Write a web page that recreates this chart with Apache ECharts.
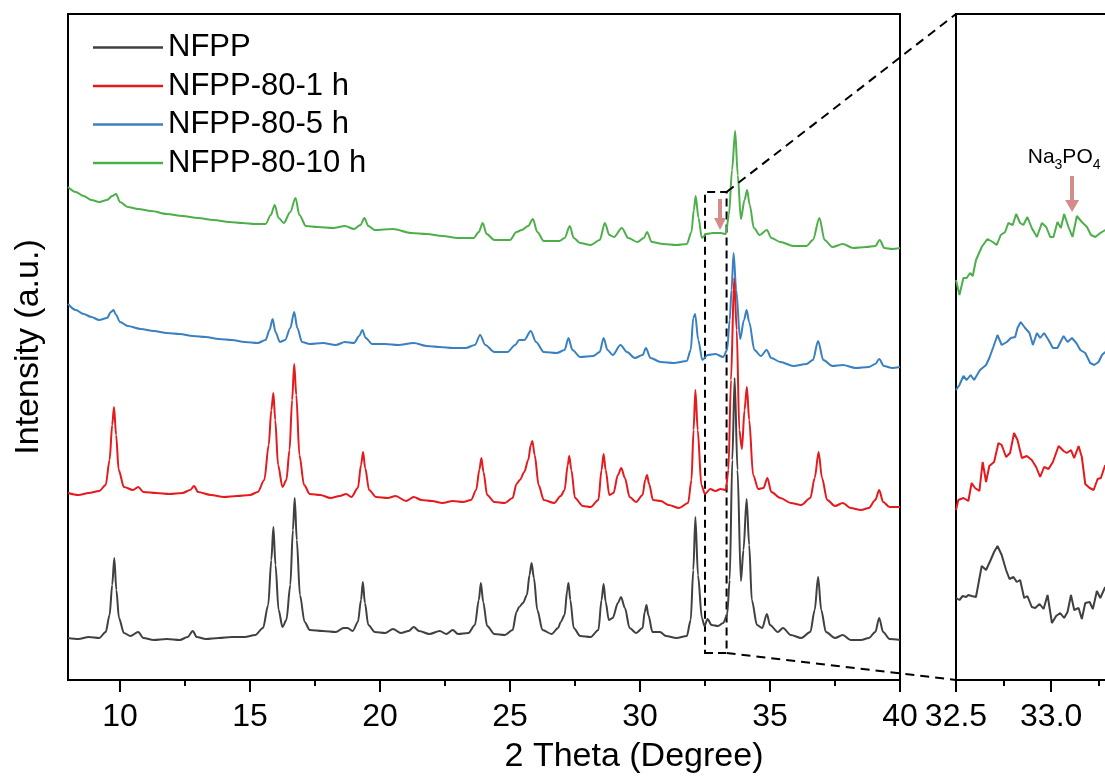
<!DOCTYPE html>
<html>
<head>
<meta charset="utf-8">
<script src="https://cdn.jsdelivr.net/npm/echarts@6/dist/echarts.min.js"></script>
<style>html,body{margin:0;padding:0;background:#fff}#c{width:1105px;height:778px}</style>
</head>
<body>
<div id="c"></div>
<script>
// ---------- data (2θ in degrees, intensity in a.u.) ----------
const seriesNames = ['NFPP', 'NFPP-80-1 h', 'NFPP-80-5 h', 'NFPP-80-10 h'];
const mainXLabels = [10, 15, 20, 25, 30, 35, 40];
const mainXMinorTicks = [12.5, 17.5, 22.5, 27.5, 32.5, 37.5];
const insetXLabels = [32.5, 33.0];
const insetXMinorTicks = [32.75, 33.25];
const zoomBoxX = [32.5, 33.33];
const zoomBoxY = [27, 488];
const mainArrow = [[33.08, 481], [33.08, 456]];
const insetArrow = [[33.11, 504], [33.11, 474]];

const nfpp = [[8.0,42],[8.4,41],[8.8,43],[9.2,42],[9.45,48],[9.6,65],[9.7,95],[9.78,122],[9.86,90],[9.96,62],[10.15,47],[10.4,44],[10.7,48],[10.9,42],[11.3,40],[11.8,41],[12.3,40],[12.6,43],[12.8,49],[12.95,43],[13.3,41],[13.8,42],[14.3,43],[14.8,43],[15.2,45],[15.5,52],[15.7,75],[15.82,120],[15.9,153],[15.98,115],[16.1,70],[16.25,53],[16.4,60],[16.55,95],[16.65,150],[16.72,182],[16.8,140],[16.92,85],[17.1,58],[17.3,50],[17.8,49],[18.3,48],[18.6,52],[18.75,52],[18.95,49],[19.15,58],[19.27,80],[19.34,98],[19.42,77],[19.55,55],[19.8,48],[20.2,47],[20.5,51],[20.8,47],[21.1,49],[21.3,53],[21.5,49],[21.9,46],[22.3,49],[22.55,46],[22.8,50],[23.0,46],[23.4,47],[23.65,55],[23.8,80],[23.88,97],[23.97,78],[24.12,54],[24.4,46],[24.8,45],[25.1,50],[25.25,68],[25.35,73],[25.5,77],[25.65,85],[25.75,105],[25.83,117],[25.92,102],[26.05,70],[26.25,50],[26.6,46],[26.85,52],[26.95,58],[27.1,65],[27.2,90],[27.25,97],[27.32,80],[27.45,52],[27.7,44],[28.1,43],[28.4,50],[28.52,80],[28.6,96],[28.68,78],[28.8,60],[28.95,62],[29.15,77],[29.27,83],[29.42,72],[29.6,52],[29.85,47],[30.1,52],[30.18,68],[30.25,75],[30.32,65],[30.48,48],[30.77,48],[31.0,44],[31.4,42],[31.8,44],[31.95,60],[32.05,110],[32.13,163],[32.23,105],[32.38,62],[32.48,54],[32.6,61],[32.75,55],[33.0,54],[33.2,57],[33.35,65],[33.45,100],[33.55,220],[33.64,302],[33.75,210],[33.88,99],[33.98,130],[34.1,181],[34.2,135],[34.3,80],[34.5,55],[34.7,52],[34.88,66],[35.0,55],[35.3,48],[35.5,52],[35.8,45],[36.2,42],[36.55,48],[36.72,70],[36.85,103],[36.97,70],[37.15,48],[37.5,42],[37.8,45],[38.1,40],[38.5,40],[38.8,42],[39.05,48],[39.2,62],[39.35,48],[39.6,41],[40.0,40]];

const nfpp1h = [[8.0,187],[8.4,185],[8.8,187],[9.2,189],[9.45,195],[9.6,220],[9.7,255],[9.77,273],[9.85,245],[9.95,210],[10.15,193],[10.5,190],[10.7,193],[10.9,188],[11.4,187],[11.9,186],[12.4,187],[12.7,190],[12.85,194],[13.0,188],[13.5,185],[14.0,183],[14.5,184],[15.0,185],[15.3,188],[15.55,200],[15.72,235],[15.82,270],[15.9,287],[15.97,260],[16.08,215],[16.25,193],[16.4,200],[16.52,230],[16.62,280],[16.7,316],[16.78,285],[16.9,225],[17.08,195],[17.3,186],[17.7,185],[18.1,182],[18.45,184],[18.7,186],[18.9,183],[19.15,192],[19.27,215],[19.35,228],[19.43,212],[19.58,190],[19.85,183],[20.3,182],[20.6,184],[21.0,179],[21.3,183],[21.6,180],[22.0,179],[22.4,177],[22.8,179],[23.2,178],[23.5,180],[23.7,190],[23.82,210],[23.9,222],[23.98,208],[24.12,185],[24.4,178],[24.8,177],[25.1,182],[25.25,196],[25.38,200],[25.55,208],[25.7,220],[25.8,235],[25.86,239],[25.95,225],[26.1,195],[26.3,180],[26.7,177],[26.95,184],[27.1,190],[27.22,215],[27.28,224],[27.36,210],[27.5,182],[27.8,174],[28.1,173],[28.4,180],[28.52,210],[28.6,226],[28.68,210],[28.82,185],[28.98,187],[29.15,205],[29.28,212],[29.42,202],[29.6,183],[29.85,178],[30.1,185],[30.2,200],[30.27,205],[30.35,196],[30.5,180],[30.8,179],[31.1,175],[31.5,172],[31.85,177],[31.98,200],[32.06,250],[32.13,290],[32.22,250],[32.36,195],[32.5,186],[32.7,191],[32.9,189],[33.1,191],[33.3,190],[33.4,210],[33.5,300],[33.62,402],[33.72,350],[33.82,250],[33.92,231],[34.02,270],[34.11,293],[34.2,260],[34.35,205],[34.55,191],[34.75,192],[34.9,202],[35.05,188],[35.4,182],[35.8,177],[36.2,175],[36.55,182],[36.72,202],[36.87,228],[37.0,202],[37.2,180],[37.5,174],[37.8,177],[38.1,172],[38.5,170],[38.8,172],[39.05,180],[39.2,190],[39.35,178],[39.6,173],[40.0,173]];

const nfpp5h = [[8.0,376],[8.3,370],[8.6,366],[8.9,363],[9.2,360],[9.5,362],[9.65,368],[9.75,370],[9.85,365],[10.0,358],[10.3,354],[10.8,351],[11.3,349],[11.8,347],[12.3,346],[12.8,344],[13.3,343],[13.8,341],[14.3,340],[14.8,338],[15.3,337],[15.6,340],[15.75,350],[15.87,361],[15.98,348],[16.15,338],[16.35,340],[16.55,352],[16.7,368],[16.82,352],[17.0,338],[17.3,336],[17.8,337],[18.3,335],[18.65,338],[19.0,337],[19.2,344],[19.32,350],[19.45,342],[19.7,336],[20.2,336],[20.7,335],[21.3,337],[21.8,334],[22.3,333],[22.8,332],[23.3,332],[23.65,335],[23.85,345],[24.05,335],[24.4,328],[24.9,328],[25.2,335],[25.35,340],[25.55,340],[25.8,349],[26.0,338],[26.3,328],[26.8,327],[27.1,330],[27.25,342],[27.4,330],[27.7,323],[28.2,324],[28.45,328],[28.6,342],[28.75,330],[28.95,325],[29.25,335],[29.5,328],[29.8,322],[30.1,325],[30.23,332],[30.4,322],[30.8,318],[31.3,317],[31.8,319],[31.95,330],[32.05,362],[32.12,366],[32.24,340],[32.4,320],[32.6,325],[32.9,326],[33.2,323],[33.35,330],[33.45,360],[33.52,390],[33.6,427],[33.7,390],[33.85,341],[34.0,360],[34.1,370],[34.2,358],[34.4,330],[34.65,324],[34.87,330],[35.05,322],[35.4,318],[35.9,314],[36.4,316],[36.65,320],[36.85,339],[37.05,320],[37.4,314],[37.8,315],[38.3,312],[38.8,313],[39.05,316],[39.2,321],[39.38,314],[39.7,312],[40.0,313]];

const nfpp10h = [[8.0,493],[8.3,488],[8.6,484],[8.9,480],[9.2,478],[9.5,480],[9.7,484],[9.85,486],[10.0,478],[10.3,473],[10.7,471],[11.2,469],[11.8,466],[12.4,464],[13.0,462],[13.6,460],[14.2,458],[14.7,457],[15.2,456],[15.6,456],[15.8,465],[15.95,475],[16.1,462],[16.3,457],[16.55,468],[16.75,482],[16.9,465],[17.15,454],[17.6,453],[18.2,452],[18.65,454],[19.0,451],[19.25,455],[19.4,462],[19.55,454],[19.8,450],[20.5,451],[21.2,447],[21.8,446],[22.4,444],[23.0,442],[23.6,442],[23.8,448],[23.95,457],[24.1,446],[24.4,440],[25.0,440],[25.25,448],[25.45,450],[25.7,454],[25.88,461],[26.05,448],[26.3,439],[26.9,439],[27.1,442],[27.3,454],[27.45,442],[27.7,437],[28.1,435],[28.45,440],[28.65,457],[28.82,445],[29.0,443],[29.3,452],[29.55,442],[29.9,438],[30.15,442],[30.27,448],[30.45,438],[30.9,436],[31.4,435],[31.8,436],[31.98,448],[32.07,470],[32.14,484],[32.25,462],[32.38,442],[32.55,446],[32.8,447],[33.1,447],[33.3,446],[33.42,465],[33.54,510],[33.66,549],[33.76,505],[33.88,461],[34.02,480],[34.12,490],[34.22,475],[34.38,452],[34.6,445],[34.88,450],[35.05,442],[35.4,438],[35.9,434],[36.4,434],[36.65,440],[36.9,462],[37.1,440],[37.4,433],[37.8,436],[38.2,432],[38.7,433],[39.05,434],[39.22,440],[39.4,432],[39.7,431],[40.0,432]];

// inset (zoom of 32.5–33.3°), own intensity scale
const insetNfpp = [[32.500,82],[32.518,80],[32.535,84],[32.553,83],[32.565,85],[32.582,84],[32.605,83],[32.635,114],[32.658,110],[32.682,120],[32.700,128],[32.718,134],[32.740,125],[32.763,110],[32.781,101],[32.802,103],[32.819,98],[32.837,100],[32.858,82],[32.875,84],[32.898,73],[32.916,72],[32.939,76],[32.960,71],[32.981,85],[33.004,57],[33.026,64],[33.047,67],[33.068,62],[33.086,68],[33.104,85],[33.121,70],[33.144,72],[33.161,61],[33.179,77],[33.202,78],[33.219,71],[33.240,89],[33.258,82],[33.284,93]];
const insetNfpp1h = [[32.500,170],[32.512,180],[32.539,182],[32.565,179],[32.582,197],[32.600,192],[32.623,189],[32.640,218],[32.658,198],[32.675,214],[32.700,218],[32.723,237],[32.740,235],[32.763,223],[32.784,227],[32.805,247],[32.823,240],[32.846,222],[32.872,224],[32.898,220],[32.921,213],[32.942,203],[32.963,213],[32.986,211],[33.009,218],[33.039,234],[33.065,229],[33.082,227],[33.104,230],[33.121,222],[33.144,234],[33.161,223],[33.179,196],[33.202,192],[33.223,190],[33.244,201],[33.261,202],[33.284,215]];
const insetNfpp5h = [[32.500,290],[32.518,295],[32.539,304],[32.556,300],[32.577,305],[32.595,300],[32.626,310],[32.658,315],[32.675,322],[32.696,333],[32.718,345],[32.740,335],[32.767,338],[32.788,342],[32.811,343],[32.823,352],[32.840,358],[32.863,352],[32.886,347],[32.904,335],[32.925,347],[32.942,342],[32.963,347],[32.986,340],[33.009,332],[33.033,332],[33.065,344],[33.086,338],[33.109,342],[33.132,337],[33.153,330],[33.179,327],[33.205,317],[33.226,315],[33.249,318],[33.267,325],[33.284,328]];
const insetNfpp10h = [[32.500,400],[32.518,385],[32.539,402],[32.556,402],[32.574,407],[32.588,404],[32.605,420],[32.635,433],[32.665,441],[32.693,438],[32.714,435],[32.735,445],[32.758,448],[32.775,457],[32.798,455],[32.816,466],[32.837,457],[32.854,455],[32.875,463],[32.898,452],[32.925,443],[32.951,457],[32.974,453],[32.995,443],[33.012,443],[33.033,458],[33.051,452],[33.068,466],[33.091,453],[33.112,443],[33.135,464],[33.161,458],[33.188,453],[33.209,445],[33.232,443],[33.258,447],[33.284,450]];

// ---------- chart ----------
const FONT = '"Liberation Sans", Arial, sans-serif';
const colors = ['#404040', '#e41a1c', '#3a80c0', '#4daf4a'];
const arrowColor = '#d58b8b';
const chart = echarts.init(document.getElementById('c'), null, {renderer: 'canvas'});

function lineSeries(name, data, color, xi, yi, z, smooth) {
  return {
    name: name, type: 'line', data: data, xAxisIndex: xi, yAxisIndex: yi,
    showSymbol: false, symbol: 'none', z: z, clip: true,
    smooth: smooth, smoothMonotone: 'x',
    lineStyle: {color: color, width: 2}, itemStyle: {color: color},
    emphasis: {disabled: true}, silent: true
  };
}

const series = [
  lineSeries(seriesNames[0], nfpp, colors[0], 0, 0, 6, 0.3),
  lineSeries(seriesNames[1], nfpp1h, colors[1], 0, 0, 5, 0.3),
  lineSeries(seriesNames[2], nfpp5h, colors[2], 0, 0, 4, 0.3),
  lineSeries(seriesNames[3], nfpp10h, colors[3], 0, 0, 3, 0.3),
  lineSeries(seriesNames[0], insetNfpp, colors[0], 2, 1, 6, false),
  lineSeries(seriesNames[1], insetNfpp1h, colors[1], 2, 1, 5, false),
  lineSeries(seriesNames[2], insetNfpp5h, colors[2], 2, 1, 4, false),
  lineSeries(seriesNames[3], insetNfpp10h, colors[3], 2, 1, 3, false)
];
// dashed zoom box + arrow on main plot
series[3].markArea = {
  silent: true,
  itemStyle: {color: 'rgba(0,0,0,0)', borderColor: '#000', borderWidth: 2, borderType: [8, 5]},
  data: [[{coord: [zoomBoxX[0], zoomBoxY[0]]}, {coord: [zoomBoxX[1], zoomBoxY[1]]}]]
};
series[3].markLine = {
  silent: true, symbol: ['none', 'triangle'], symbolSize: [12, 12],
  lineStyle: {color: arrowColor, width: 4, type: 'solid'},
  label: {show: false},
  data: [[{coord: mainArrow[0]}, {coord: mainArrow[1]}]]
};
series[7].markLine = {
  silent: true, symbol: ['none', 'triangle'], symbolSize: [14, 12],
  lineStyle: {color: arrowColor, width: 4, type: 'solid'},
  label: {
    show: true, position: 'start', distance: 4, offset: [-8, 0],
    formatter: '{n|Na}{s|3}{n|PO}{s|4}',
    rich: {
      n: {fontSize: 21, color: '#000', fontFamily: FONT},
      s: {fontSize: 14, color: '#000', fontFamily: FONT, padding: [16, 0, 0, 0]}
    }
  },
  data: [[{coord: insetArrow[0]}, {coord: insetArrow[1]}]]
};

const tickStyle = {color: '#000', width: 2};
const option = {
  animation: false,
  backgroundColor: '#fff',
  textStyle: {fontFamily: FONT},
  legend: {
    data: seriesNames, orient: 'vertical', left: 88, top: 27,
    icon: 'rect', itemWidth: 70, itemHeight: 2.5, itemGap: 7.5,
    textStyle: {fontSize: 31, color: '#000', fontFamily: FONT},
    selectedMode: false
  },
  grid: [
    {left: 68, top: 14, width: 832, height: 666, outerBoundsMode: 'none', containLabel: false,
     show: true, borderColor: '#000', borderWidth: 2, backgroundColor: 'transparent'},
    {left: 956, top: 14, width: 158, height: 666, outerBoundsMode: 'none', containLabel: false,
     show: true, borderColor: '#000', borderWidth: 2, backgroundColor: 'transparent'}
  ],
  xAxis: [
    {type: 'value', gridIndex: 0, min: 8, max: 40, position: 'bottom',
     axisLine: {show: true, lineStyle: tickStyle},
     axisTick: {show: true, customValues: mainXLabels, length: 12, lineStyle: tickStyle},
     axisLabel: {show: true, customValues: mainXLabels, fontSize: 32, color: '#000', margin: 21, fontFamily: FONT},
     splitLine: {show: false},
     name: '2 Theta (Degree)', nameLocation: 'middle', nameGap: 60,
     nameTextStyle: {fontSize: 34, color: '#000', fontFamily: FONT, padding: [0, 0, 0, 300]}},
    {type: 'value', gridIndex: 0, min: 8, max: 40, position: 'bottom',
     axisLine: {show: false},
     axisTick: {show: true, customValues: mainXMinorTicks, length: 6, lineStyle: tickStyle},
     axisLabel: {show: false}, splitLine: {show: false}},
    {type: 'value', gridIndex: 1, min: 32.5, max: 33.33, position: 'bottom',
     axisLine: {show: true, lineStyle: tickStyle},
     axisTick: {show: true, customValues: insetXLabels, length: 12, lineStyle: tickStyle},
     axisLabel: {show: true, customValues: insetXLabels, fontSize: 32, color: '#000', margin: 21, fontFamily: FONT,
                 formatter: function (v) { return Number(v).toFixed(1); }},
     splitLine: {show: false}},
    {type: 'value', gridIndex: 1, min: 32.5, max: 33.33, position: 'bottom',
     axisLine: {show: false},
     axisTick: {show: true, customValues: insetXMinorTicks, length: 6, lineStyle: tickStyle},
     axisLabel: {show: false}, splitLine: {show: false}}
  ],
  yAxis: [
    {type: 'value', gridIndex: 0, min: 0, max: 666,
     axisLine: {show: false}, axisTick: {show: false}, axisLabel: {show: false}, splitLine: {show: false},
     name: 'Intensity (a.u.)', nameLocation: 'middle', nameGap: 22,
     nameTextStyle: {fontSize: 34, color: '#000', fontFamily: FONT}},
    {type: 'value', gridIndex: 1, min: 0, max: 666,
     axisLine: {show: false}, axisTick: {show: false}, axisLabel: {show: false}, splitLine: {show: false}}
  ],
  series: series
};
chart.setOption(option);

// connector dashed lines from zoom box to inset, positioned through the axes
const pBoxTop = chart.convertToPixel({seriesIndex: 0}, [zoomBoxX[1], zoomBoxY[1]]);
const pBoxBot = chart.convertToPixel({seriesIndex: 0}, [zoomBoxX[1], zoomBoxY[0]]);
const pInsTop = chart.convertToPixel({seriesIndex: 4}, [32.5, 666]);
const pInsBot = chart.convertToPixel({seriesIndex: 4}, [32.5, 0]);
chart.setOption({
  graphic: [
    {type: 'line', silent: true, z: 10, shape: {x1: pBoxTop[0], y1: pBoxTop[1], x2: pInsTop[0], y2: pInsTop[1]},
     style: {stroke: '#000', lineWidth: 2, lineDash: [9, 6]}},
    {type: 'line', silent: true, z: 10, shape: {x1: pBoxBot[0], y1: pBoxBot[1], x2: pInsBot[0], y2: pInsBot[1]},
     style: {stroke: '#000', lineWidth: 2, lineDash: [9, 6]}}
  ]
});
</script>
</body>
</html>
